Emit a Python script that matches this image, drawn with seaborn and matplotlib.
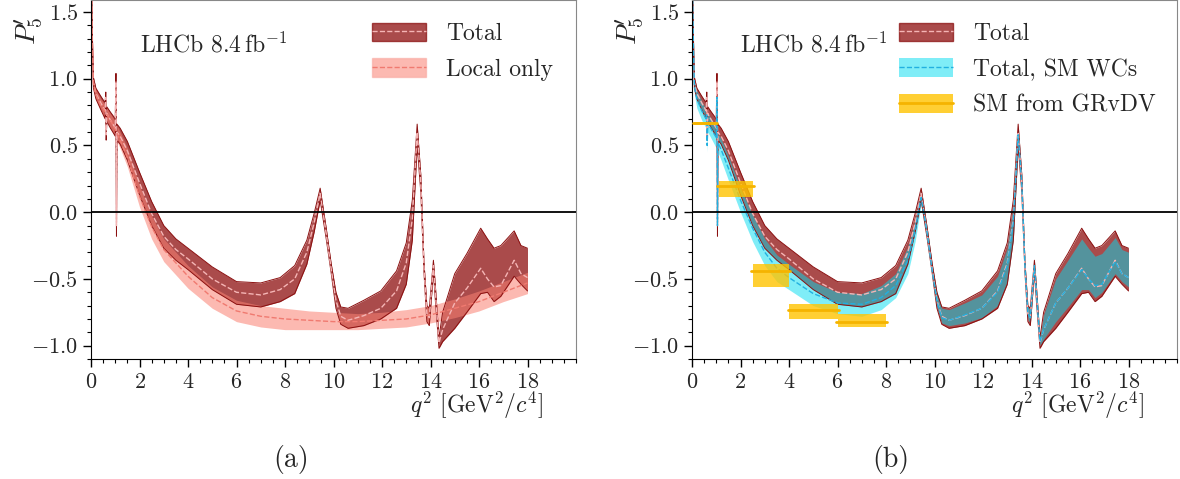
import numpy as np
import pandas as pd
import matplotlib
matplotlib.use('Agg')
import matplotlib.pyplot as plt
from matplotlib.patches import Patch
from matplotlib.lines import Line2D
from matplotlib.ticker import MultipleLocator, FixedLocator
import seaborn as sns

# q^2 grid (GeV^2/c^4)
q2_tot = [0.02, 0.06, 0.10, 0.20, 0.40, 0.58, 0.61, 0.625, 0.65, 0.80,
          1.00, 1.03, 1.05, 1.07, 1.20, 1.50, 2.00, 2.50, 3.00, 3.50,
          4.00, 5.00, 6.00, 7.00, 7.80, 8.40, 8.90, 9.20, 9.45, 9.70,
          9.90, 10.10, 10.30, 10.60, 11.25, 11.95, 12.60, 13.00, 13.25, 13.45,
          13.60, 13.73, 13.85, 13.95, 14.12, 14.20, 14.35, 14.50, 15.00, 15.50,
          16.07, 16.35, 16.62, 16.90, 17.45, 17.73, 18.00]

# Total
tot_mid = [1.70, 1.25, 0.97, 0.89, 0.82, 0.76, 0.86, 0.58, 0.74, 0.69,
           0.63, 0.98, -0.10, 0.60, 0.57, 0.46, 0.22, -0.01, -0.18, -0.28,
           -0.35, -0.50, -0.60, -0.62, -0.58, -0.50, -0.30, -0.08, 0.14, -0.16,
           -0.42, -0.66, -0.78, -0.81, -0.775, -0.72, -0.59, -0.38, -0.05, 0.60,
           0.22, -0.41, -0.76, -0.79, -0.40, -0.60, -0.98, -0.88, -0.68, -0.57,
           -0.42, -0.50, -0.56, -0.55, -0.36, -0.46, -0.49]
tot_lo = [1.65, 1.20, 0.93, 0.85, 0.77, 0.70, 0.82, 0.54, 0.68, 0.63,
          0.57, 0.92, -0.18, 0.54, 0.51, 0.39, 0.13, -0.10, -0.27, -0.36,
          -0.43, -0.58, -0.69, -0.71, -0.67, -0.61, -0.39, -0.15, 0.09, -0.20,
          -0.45, -0.72, -0.84, -0.87, -0.85, -0.80, -0.72, -0.54, -0.21, 0.50,
          0.15, -0.45, -0.82, -0.85, -0.45, -0.66, -1.02, -0.97, -0.87, -0.75,
          -0.61, -0.60, -0.67, -0.63, -0.48, -0.54, -0.59]
tot_hi = [1.75, 1.30, 1.01, 0.93, 0.87, 0.82, 0.90, 0.63, 0.79, 0.75,
          0.70, 1.04, 0.00, 0.66, 0.63, 0.53, 0.30, 0.08, -0.10, -0.20,
          -0.27, -0.41, -0.52, -0.53, -0.49, -0.40, -0.21, -0.01, 0.18, -0.12,
          -0.38, -0.60, -0.71, -0.72, -0.66, -0.59, -0.44, -0.23, 0.09, 0.66,
          0.28, -0.37, -0.70, -0.72, -0.36, -0.55, -0.94, -0.75, -0.46, -0.31,
          -0.12, -0.20, -0.27, -0.25, -0.14, -0.25, -0.27]

# Total, SM Wilson coefficients (same q^2 grid)
sm_mid = [1.70, 1.22, 0.94, 0.85, 0.76, 0.70, 0.73, 0.50, 0.67, 0.62,
          0.56, 0.86, -0.10, 0.52, 0.47, 0.33, 0.09, -0.12, -0.30, -0.42,
          -0.49, -0.61, -0.68, -0.69, -0.64, -0.55, -0.36, -0.14, 0.11, -0.16,
          -0.43, -0.67, -0.79, -0.81, -0.77, -0.72, -0.60, -0.40, -0.08, 0.58,
          0.21, -0.41, -0.76, -0.79, -0.40, -0.60, -0.97, -0.88, -0.68, -0.57,
          -0.43, -0.50, -0.55, -0.54, -0.37, -0.46, -0.49]
sm_lo = [1.65, 1.15, 0.88, 0.78, 0.69, 0.63, 0.68, 0.45, 0.60, 0.55,
         0.48, 0.80, -0.18, 0.45, 0.39, 0.24, 0.00, -0.22, -0.40, -0.52,
         -0.58, -0.70, -0.76, -0.78, -0.73, -0.64, -0.46, -0.22, 0.06, -0.20,
         -0.46, -0.71, -0.83, -0.85, -0.83, -0.79, -0.70, -0.52, -0.20, 0.50,
         0.15, -0.45, -0.80, -0.83, -0.45, -0.65, -1.00, -0.95, -0.82, -0.71,
         -0.58, -0.58, -0.64, -0.60, -0.46, -0.52, -0.56]
sm_hi = [1.75, 1.28, 0.99, 0.91, 0.83, 0.77, 0.78, 0.56, 0.74, 0.70,
         0.64, 0.92, 0.00, 0.59, 0.55, 0.42, 0.18, -0.02, -0.20, -0.32,
         -0.39, -0.52, -0.60, -0.61, -0.55, -0.46, -0.26, -0.06, 0.15, -0.12,
         -0.39, -0.61, -0.72, -0.73, -0.68, -0.62, -0.48, -0.27, 0.05, 0.64,
         0.27, -0.37, -0.71, -0.73, -0.36, -0.55, -0.93, -0.77, -0.50, -0.36,
         -0.20, -0.27, -0.33, -0.31, -0.19, -0.28, -0.30]

# Local only
q2_loc = [0.02, 0.06, 0.10, 0.20, 0.40, 0.60, 0.80, 1.00, 1.20, 1.50,
          2.00, 2.50, 3.00, 4.00, 5.00, 6.00, 7.00, 8.00, 9.00, 10.00,
          11.00, 12.00, 13.00, 14.00, 15.00, 16.00, 17.00, 18.00]
loc_mid = [1.70, 1.23, 0.96, 0.88, 0.80, 0.75, 0.69, 0.62, 0.54, 0.41,
           0.12, -0.11, -0.28, -0.48, -0.64, -0.74, -0.78, -0.80, -0.81, -0.82,
           -0.82, -0.81, -0.80, -0.77, -0.72, -0.67, -0.60, -0.53]
loc_lo = [1.65, 1.18, 0.92, 0.84, 0.76, 0.70, 0.63, 0.56, 0.48, 0.34,
          0.04, -0.20, -0.37, -0.57, -0.72, -0.82, -0.86, -0.88, -0.88, -0.88,
          -0.88, -0.87, -0.86, -0.83, -0.79, -0.74, -0.67, -0.61]
loc_hi = [1.75, 1.28, 1.00, 0.92, 0.85, 0.80, 0.74, 0.68, 0.60, 0.48,
          0.20, -0.03, -0.20, -0.40, -0.56, -0.66, -0.70, -0.72, -0.74, -0.75,
          -0.76, -0.75, -0.73, -0.70, -0.65, -0.59, -0.52, -0.45]

# SM from GRvDV, binned
bin_lo = [0.10, 1.10, 2.50, 4.00, 6.00]
bin_hi = [0.98, 2.50, 4.00, 6.00, 8.00]
grv_mid = [0.665, 0.195, -0.44, -0.73, -0.82]
grv_lo = [0.655, 0.115, -0.56, -0.80, -0.86]
grv_hi = [0.675, 0.235, -0.385, -0.69, -0.76]

tot_face, tot_edge, tot_line = '#8e0f0f', '#8b1010', '#f5b5b5'
loc_face, loc_edge, loc_line = '#fa8072', '#f9a59c', '#f07a70'
sm_face, sm_line = '#00dcf0', '#22b0e0'
gold_face, gold_line = '#ffc400', '#f5b400'

sns.set_style('ticks')
plt.rcParams['font.family'] = ['cmr10', 'DejaVu Serif']
plt.rcParams['mathtext.fontset'] = 'cm'
plt.rcParams['axes.formatter.use_mathtext'] = True


def draw_band(ax, q2, lo, mid, hi, face, alpha, edge, line, edge_lw):
    ax.fill_between(q2, lo, hi, facecolor=face, alpha=alpha, lw=0)
    if edge is not None:
        ax.plot(q2, lo, color=edge, lw=edge_lw)
        ax.plot(q2, hi, color=edge, lw=edge_lw)
    sns.lineplot(x=q2, y=mid, ax=ax, color=line, lw=1, linestyle='--', sort=False)


def style_axes(ax):
    ax.set_xlim(0, 20)
    ax.set_ylim(-1.1, 1.59)
    ax.xaxis.set_major_locator(FixedLocator(np.arange(0, 19, 2)))
    ax.xaxis.set_minor_locator(MultipleLocator(0.5))
    ax.yaxis.set_major_locator(MultipleLocator(0.5))
    ax.yaxis.set_minor_locator(MultipleLocator(0.1))
    ax.tick_params(which='major', length=6, width=1, labelsize=16, direction='out', color='black')
    ax.tick_params(which='minor', length=3, width=0.8, direction='out', color='black')
    ax.axhline(0, color='black', lw=1.3, zorder=5)
    for s in ['top', 'right']:
        ax.spines[s].set_color('#888888')
    for s in ['left', 'bottom']:
        ax.spines[s].set_color('black')
    ax.set_xlabel(r'$q^2$ [GeV$^2/c^4$]', fontsize=17)
    ax.xaxis.set_label_coords(0.794, -0.085)
    ax.set_ylabel(r"$P_5'$", fontsize=20)
    ax.yaxis.set_label_coords(-0.095, 0.915)
    ax.text(0.10, 0.875, r'LHCb $8.4\,\mathrm{fb}^{-1}$', transform=ax.transAxes,
            fontsize=17, va='center', ha='left')


fig = plt.figure(figsize=(11.8, 4.79), dpi=100)
ax1 = fig.add_axes([91 / 1180, 1 - 359 / 479, 485 / 1180, 359 / 479])
ax2 = fig.add_axes([692 / 1180, 1 - 359 / 479, 485 / 1180, 359 / 479])

# (a) Total vs local only
draw_band(ax1, q2_tot, tot_lo, tot_mid, tot_hi, tot_face, 0.75, tot_edge, tot_line, 0.7)
draw_band(ax1, q2_loc, loc_lo, loc_mid, loc_hi, loc_face, 0.55, None, loc_line, 0.5)
style_axes(ax1)

h_tot = (Patch(facecolor=tot_face, alpha=0.75, edgecolor=tot_edge, lw=1),
         Line2D([], [], color=tot_line, ls='--', lw=1))
h_loc = (Patch(facecolor=loc_face, alpha=0.55, edgecolor=loc_edge, lw=1),
         Line2D([], [], color=loc_line, ls='--', lw=1))
leg_kw = dict(loc='upper left', frameon=False, fontsize=17,
              handlelength=2.3, handleheight=0.85, handletextpad=0.85,
              labelspacing=0.55, borderpad=0, borderaxespad=0)
ax1.legend([h_tot, h_loc], ['Total', 'Local only'],
           bbox_to_anchor=(0.579, 0.937), **leg_kw)

# (b) Total vs SM WCs and GRvDV bins
draw_band(ax2, q2_tot, tot_lo, tot_mid, tot_hi, tot_face, 0.75, tot_edge, tot_line, 0.7)
draw_band(ax2, q2_tot, sm_lo, sm_mid, sm_hi, sm_face, 0.5, None, sm_line, 0.5)
for x0, x1, lo, c, hi in zip(bin_lo, bin_hi, grv_lo, grv_mid, grv_hi):
    ax2.fill_between([x0, x1], [lo, lo], [hi, hi], facecolor=gold_face, alpha=0.8, lw=0, zorder=4)
    ax2.plot([x0 - 0.05, x1 + 0.05], [c, c], color=gold_line, lw=2, zorder=4)
style_axes(ax2)

h_sm = (Patch(facecolor=sm_face, alpha=0.5, lw=0),
        Line2D([], [], color=sm_line, ls='--', lw=1))
h_grv = (Patch(facecolor=gold_face, alpha=0.8, lw=0),
         Line2D([], [], color=gold_line, lw=2))
ax2.legend([h_tot, h_sm, h_grv], ['Total', 'Total, SM WCs', 'SM from GRvDV'],
           bbox_to_anchor=(0.427, 0.937), **leg_kw)

fig.text(291 / 1180, 1 - 460 / 479, '(a)', ha='center', va='center', fontsize=20)
fig.text(891 / 1180, 1 - 460 / 479, '(b)', ha='center', va='center', fontsize=20)

fig.savefig('out.png', dpi=100)
